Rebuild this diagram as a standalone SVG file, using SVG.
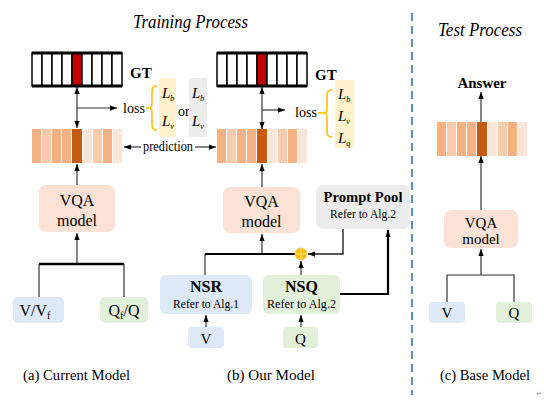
<svg xmlns="http://www.w3.org/2000/svg" width="544" height="400" viewBox="0 0 544 400" font-family="Liberation Serif, DejaVu Serif, serif">
<defs>
<marker id="ah" viewBox="0 0 8 6" refX="8" refY="3" markerWidth="7" markerHeight="6" markerUnits="userSpaceOnUse" orient="auto-start-reverse"><path d="M0,0 L8,3 L0,6 z" fill="#000"/></marker>
<style>
.t{font-family:'Liberation Serif','DejaVu Serif',serif;fill:#000}
.b{font-weight:bold}
.i{font-style:italic}
.ln{fill:none;stroke:#333;stroke-width:1.2}
.thk{fill:none;stroke:#000;stroke-width:2.4}
.br{fill:none;stroke:#ffc000;stroke-width:1.6}
.vqa{fill:#fbe2d5}
.blue{fill:#dde9f6}
.green{fill:#e2efd9}
.gray{fill:#ececec}
.yel{fill:#fff2cc}
.c1{fill:#f4b183}.c2{fill:#f8cbad}.c3{fill:#fbe5d6}.c4{fill:#c55a11}
.gt{fill:#fff;stroke:#000;stroke-width:1.5}
</style>
<g id="gtbar">
<rect class="gt" x="0" y="0" width="10" height="33"/><rect class="gt" x="10" y="0" width="10" height="33"/><rect class="gt" x="20" y="0" width="10" height="33"/><rect class="gt" x="30" y="0" width="10" height="33"/><rect x="40" y="0" width="10" height="33" fill="#c00000" stroke="#000" stroke-width="1.5"/><rect class="gt" x="50" y="0" width="10" height="33"/><rect class="gt" x="60" y="0" width="10" height="33"/><rect class="gt" x="70" y="0" width="10" height="33"/><rect class="gt" x="80" y="0" width="10" height="33"/>
<path d="M0,0 H90 M0,33 H90" stroke="#000" stroke-width="3"/>
</g>
<g id="predbar">
<rect class="c1" x="0" y="0" width="9" height="34"/><rect class="c2" x="10" y="0" width="9" height="34"/><rect class="c1" x="20" y="0" width="9" height="34"/><rect class="c1" x="30" y="0" width="9" height="34"/><rect class="c4" x="40" y="0" width="10" height="34"/><rect class="c3" x="51" y="0" width="9" height="34"/><rect class="c2" x="61" y="0" width="9" height="34"/><rect class="c1" x="71" y="0" width="9" height="34"/><rect class="c3" x="81" y="0" width="9" height="34"/>
</g>
</defs>
<rect width="544" height="400" fill="#fff"/>

<text class="t i" x="133" y="28" font-size="18" textLength="115" lengthAdjust="spacingAndGlyphs">Training Process</text>
<text class="t i" x="438" y="36" font-size="18" textLength="84" lengthAdjust="spacingAndGlyphs">Test Process</text>

<path d="M412,13 V395" stroke="#2e75b6" stroke-width="1.6" stroke-dasharray="8 5" fill="none"/>

<g id="connectors">
<path class="ln" d="M77,185 V164" marker-end="url(#ah)"/>
<path class="ln" d="M77,108 V87" marker-end="url(#ah)"/>
<path class="ln" d="M77,108 V128" marker-end="url(#ah)"/>
<path class="ln" d="M77,108 H117" marker-end="url(#ah)"/>
<path class="ln" d="M124,147 H141" marker-start="url(#ah)"/>
<path class="ln" d="M195,147 H216" marker-end="url(#ah)"/>
<path class="ln" d="M77,264 V233" marker-end="url(#ah)"/>
<path class="thk" d="M39,264 H124"/>
<path class="ln" d="M39,264 V297 M124,264 V297"/>
<path class="ln" d="M262,187 V164" marker-end="url(#ah)"/>
<path class="ln" d="M262,110 V87" marker-end="url(#ah)"/>
<path class="ln" d="M262,110 V129" marker-end="url(#ah)"/>
<path class="ln" d="M262,110 H285" marker-end="url(#ah)"/>
<path class="ln" d="M262,254 V234" marker-end="url(#ah)"/>
<path class="ln" d="M205,275 V254"/>
<path fill="none" stroke="#000" stroke-width="1.8" d="M205,254 H295"/>
<path fill="none" stroke="#222" stroke-width="1.4" d="M343,229 V254 H308" marker-end="url(#ah)"/>
<path class="ln" d="M301,275 V261" marker-end="url(#ah)"/>
<path fill="none" stroke="#000" stroke-width="2.2" d="M340,294 H388 V230" marker-end="url(#ah)"/>
<path class="ln" d="M206,327 V315" marker-end="url(#ah)"/>
<path class="ln" d="M301,327 V315" marker-end="url(#ah)"/>
<path class="ln" d="M481,122 V92" marker-end="url(#ah)"/>
<path class="ln" d="M481,210 V156" marker-end="url(#ah)"/>
<path class="ln" d="M481,275 V249" marker-end="url(#ah)"/>
<path class="ln" d="M447,302 V275 H514 V302"/>
</g>

<g id="gt-left"><use href="#gtbar" x="32" y="53"/><text class="t b" x="130" y="78" font-size="15">GT</text></g>
<g id="pred-left"><use href="#predbar" x="32" y="129"/></g>
<g id="loss-left">
<text class="t" x="123" y="113" font-size="15" textLength="22" lengthAdjust="spacingAndGlyphs">loss</text>
<path class="br" d="M146,108 H149 M157,86 Q152,86 152,91 V103 Q152,108 149,108 Q152,108 152,113 V125 Q152,130 157,130"/>
<rect class="yel" x="159" y="78" width="17" height="59"/>
<text class="t i" x="162" y="98" font-size="15">L<tspan font-size="8" dy="3">b</tspan></text>
<text class="t i" x="162" y="126" font-size="15">L<tspan font-size="8" dy="3">v</tspan></text>
<text class="t" x="178" y="116" font-size="14">or</text>
<rect class="gray" x="189" y="78" width="18" height="59"/>
<text class="t i" x="192" y="98" font-size="15">L<tspan font-size="8" dy="3">b</tspan></text>
<text class="t i" x="192" y="126" font-size="15">L<tspan font-size="8" dy="3">v</tspan></text>
</g>
<text class="t" x="168" y="151" font-size="14" text-anchor="middle" textLength="50" lengthAdjust="spacingAndGlyphs">prediction</text>
<g id="vqa-left"><rect class="vqa" x="39" y="185" width="76" height="47" rx="7"/><text class="t" x="77" y="206" font-size="16" text-anchor="middle">VQA</text><text class="t" x="77" y="226" font-size="16" text-anchor="middle">model</text></g>
<g id="vvf"><rect class="blue" x="13" y="297" width="51" height="26" rx="5"/><text class="t" x="35" y="316" font-size="16" text-anchor="middle">V/V<tspan font-size="10" dy="3">f</tspan></text></g>
<g id="qfq"><rect class="green" x="100" y="297" width="48" height="26" rx="5"/><text class="t" x="124" y="316" font-size="16" text-anchor="middle">Q<tspan font-size="10" dy="3">f</tspan><tspan dy="-3">/Q</tspan></text></g>
<text class="t" x="23" y="380" font-size="15" textLength="107" lengthAdjust="spacingAndGlyphs">(a) Current Model</text>

<g id="gt-mid"><use href="#gtbar" x="217" y="53"/><text class="t b" x="315" y="80" font-size="15">GT</text></g>
<g id="pred-mid"><use href="#predbar" x="217" y="129"/></g>
<g id="loss-mid">
<text class="t" x="295" y="117" font-size="15" textLength="22" lengthAdjust="spacingAndGlyphs">loss</text>
<path class="br" d="M318,113 H324 M332,90 Q327,90 327,95 V108 Q327,113 324,113 Q327,113 327,118 V132 Q327,137 332,137"/>
<rect class="yel" x="335" y="80" width="19" height="68"/>
<text class="t i" x="338" y="99" font-size="15">L<tspan font-size="8" dy="3">b</tspan></text>
<text class="t i" x="338" y="121" font-size="15">L<tspan font-size="8" dy="3">v</tspan></text>
<text class="t i" x="338" y="143" font-size="15">L<tspan font-size="8" dy="3">q</tspan></text>
</g>
<g id="vqa-mid"><rect class="vqa" x="223" y="187" width="77" height="46" rx="7"/><text class="t" x="261.5" y="207" font-size="16" text-anchor="middle">VQA</text><text class="t" x="261.5" y="227" font-size="16" text-anchor="middle">model</text></g>
<g id="prompt-pool"><rect class="gray" x="316" y="185" width="94" height="44" rx="7"/><text class="t b" x="363" y="202" font-size="15" text-anchor="middle" textLength="79" lengthAdjust="spacingAndGlyphs">Prompt Pool</text><text class="t" x="363" y="218" font-size="13" text-anchor="middle" textLength="66" lengthAdjust="spacingAndGlyphs">Refer to Alg.2</text></g>
<g id="plus"><circle cx="301" cy="254" r="6" fill="#ffc000" stroke="#f4b183" stroke-width="0.8"/><path d="M295,254 H307 M301,248 V260" stroke="#ffe699" stroke-width="1"/></g>
<g id="nsr"><rect class="blue" x="160" y="275" width="92" height="39" rx="6"/><text class="t b" x="206" y="292" font-size="16" text-anchor="middle">NSR</text><text class="t" x="206" y="308" font-size="13" text-anchor="middle" textLength="66" lengthAdjust="spacingAndGlyphs">Refer to Alg.1</text></g>
<g id="nsq"><rect class="green" x="263" y="275" width="77" height="39" rx="6"/><text class="t b" x="301.5" y="292" font-size="16" text-anchor="middle">NSQ</text><text class="t" x="301.5" y="308" font-size="13" text-anchor="middle" textLength="69" lengthAdjust="spacingAndGlyphs">Refer to Alg.2</text></g>
<g id="v-mid"><rect class="blue" x="188" y="327" width="36" height="21" rx="4"/><text class="t" x="206" y="344" font-size="15" text-anchor="middle">V</text></g>
<g id="q-mid"><rect class="green" x="283" y="327" width="35" height="21" rx="4"/><text class="t" x="300.5" y="344" font-size="15" text-anchor="middle">Q</text></g>
<text class="t" x="227" y="380" font-size="15" textLength="88" lengthAdjust="spacingAndGlyphs">(b) Our Model</text>

<text class="t b" x="482" y="88" font-size="15" text-anchor="middle" textLength="49" lengthAdjust="spacingAndGlyphs">Answer</text>
<g id="pred-right"><use href="#predbar" x="437" y="122"/></g>
<g id="vqa-right"><rect class="vqa" x="444" y="210" width="74" height="38" rx="7"/><text class="t" x="481" y="228" font-size="15" text-anchor="middle">VQA</text><text class="t" x="481" y="244" font-size="15" text-anchor="middle">model</text></g>
<g id="v-right"><rect class="blue" x="429" y="302" width="36" height="21" rx="4"/><text class="t" x="447" y="318" font-size="15" text-anchor="middle">V</text></g>
<g id="q-right"><rect class="green" x="496" y="302" width="36" height="21" rx="4"/><text class="t" x="514" y="318" font-size="15" text-anchor="middle">Q</text></g>
<text class="t" x="440" y="380" font-size="15" textLength="90" lengthAdjust="spacingAndGlyphs">(c) Base Model</text>
<text x="536" y="396" font-size="7" fill="#888" font-family="DejaVu Sans, sans-serif">↵</text>
</svg>
